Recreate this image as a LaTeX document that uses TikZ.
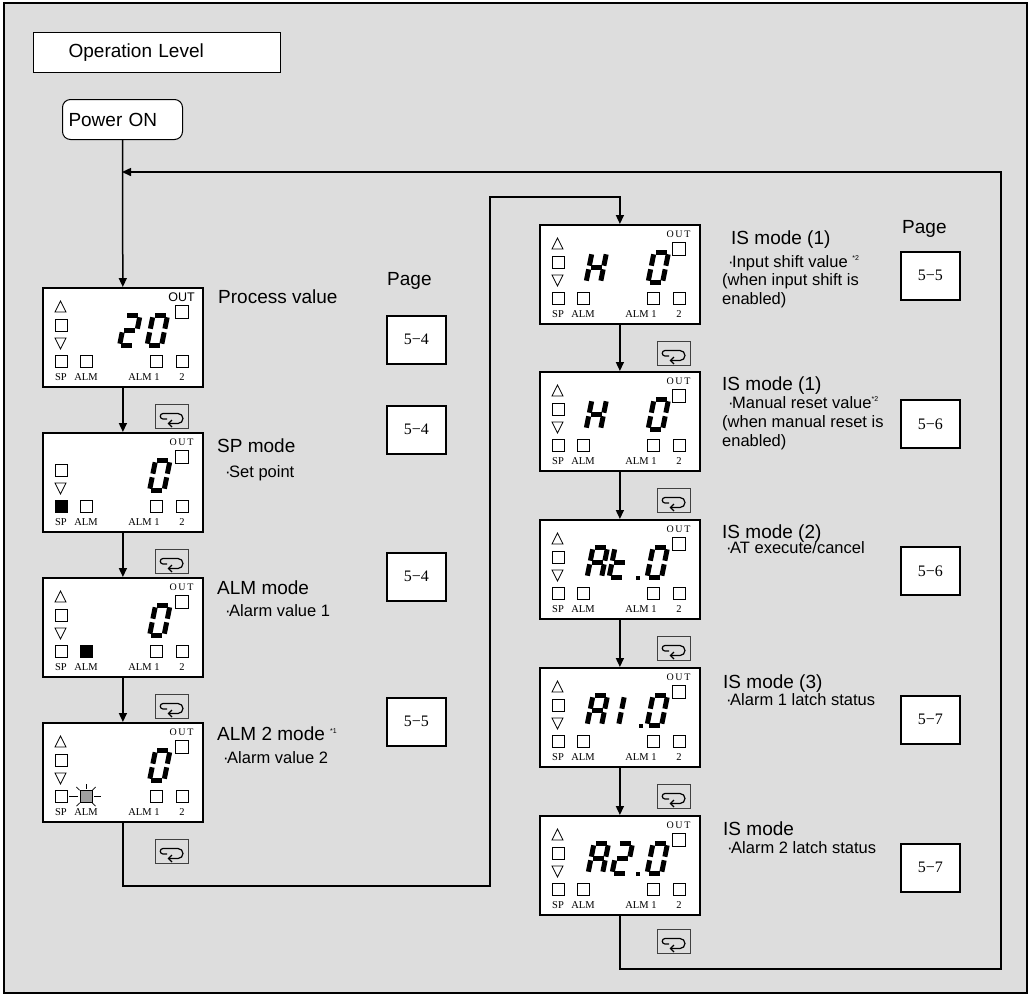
\documentclass[tikz,border=0pt]{standalone}
\usepackage{fontspec}
\setmainfont{Liberation Sans}
\newfontfamily\lcdserif{Liberation Serif}
\usetikzlibrary{arrows.meta}
\definecolor{panelgray}{RGB}{221,221,221}
\definecolor{blinkgray}{RGB}{160,160,160}

\newcommand{\titlesize}{\fontsize{19}{22}\selectfont}
\newcommand{\detailsize}{\fontsize{16.5}{18.5}\selectfont}
\newcommand{\fnote}[1]{\raisebox{7pt}{\fontsize{7}{7}\selectfont #1}}
\newcommand{\dotmark}{·\kern-1.5pt}

% seven segment digit, segments a..g (x1/y1/x2/y2)
\def\lcdsega{1.8/0/12.7/0}
\def\lcdsegb{14.5/1.8/14.5/13.2}
\def\lcdsegc{14.5/16.8/14.5/28.2}
\def\lcdsegd{1.8/30/12.7/30}
\def\lcdsege{0/16.8/0/28.2}
\def\lcdsegf{0/1.8/0/13.2}
\def\lcdsegg{1.8/15/12.7/15}
\def\drawseg#1/#2/#3/#4\relax{\draw[segline] (#1,#2) -- (#3,#4);}
\newcommand{\lcddigit}[2]{%
  \begin{scope}[shift={(#1,28.5)}, xslant=0.2]
    \foreach \s in {#2} {\expandafter\expandafter\expandafter\drawseg\csname lcdseg\s\endcsname\relax}
  \end{scope}}
\newcommand{\lcddot}[1]{\fill (#1,56.5) rectangle ++(4.2,4.2);}

% indicator extras
\newcommand{\lcdup}{\draw[ind] (13,25) -- (18.5,14) -- (24,25) -- cycle;}
\newcommand{\spon}{\fill (13,68.5) rectangle ++(12,12);}
\newcommand{\almon}{\fill (38,68.5) rectangle ++(12,12);}
\newcommand{\almblink}{%
  \draw[ind, fill=blinkgray] (38,68.5) rectangle ++(12,12);
  \foreach \a/\ra/\rb in {0/8/15, 45/9/13.5, 90/8/13, 135/9/13.5, 180/8/17, 225/9/13.5, 315/9/13.5}
    {\draw[ind, shift={(44,74.5)}] (\a:\ra pt) -- (\a:\rb pt);}}
\newcommand{\outsans}{\fontsize{12.5}{12.5}\selectfont OUT}
\newcommand{\outserif}{\lcdserif\fontsize{10}{10}\selectfont O\,U\,T}

% display panel: name, x, y, OUT text, extras
\newcommand{\lcd}[5]{%
  \node[lcd] (#1) at (#2,#3) {};
  \begin{scope}[shift={(#2,#3)}]
    \draw[ind] (13,32) rectangle ++(12,12);
    \draw[ind] (13,51) -- (24,51) -- (18.5,62) -- cycle;
    \foreach \xx in {13,38,108,134} {\draw[ind] (\xx,68.5) rectangle ++(12,12);}
    \draw[ind] (133,18) rectangle ++(13,13);
    \node[lcdout] (#1-out) at (139.5,10) {#4};
    \node[lcdlabel] (#1-sp) at (19,90.5) {SP};
    \node[lcdlabel] (#1-alm) at (44,90.5) {ALM};
    \node[lcdlabel] (#1-alm1) at (102,90.5) {ALM 1};
    \node[lcdlabel] (#1-two) at (140,90.5) {2};
    #5
  \end{scope}}

% mode key icon: name, x, y
\newcommand{\modekey}[3]{%
  \node[keybox] (#1) at (#2,#3) {};
  \begin{scope}[shift={(#2,#3)}]
    \draw[keysym] (12,15) -- (8,15) arc[start angle=270, end angle=90, radius=2.75pt]
      -- (23,9.5) arc[start angle=90, end angle=-90, radius=5pt] -- (13.5,19.5);
    \draw[keysym] (17,16) -- (13.5,19.5) -- (17,23);
  \end{scope}}

\begin{document}
\begin{tikzpicture}[
    x=1pt, y=-1pt,
    outerframe/.style={draw=black, line width=1.4pt, fill=panelgray},
    levelbox/.style={draw, line width=1.3pt, fill=white, anchor=north west, text width=177pt,
                     align=left, inner xsep=35pt, minimum height=40pt, font=\titlesize},
    startbox/.style={draw, line width=1pt, fill=white, rounded corners=8pt, anchor=north west,
                     text width=108pt, align=left, inner xsep=6pt, minimum height=40pt, font=\titlesize},
    lcd/.style={draw, line width=1.8pt, fill=white, anchor=north west,
                minimum width=160pt, minimum height=99pt, inner sep=0pt},
    ind/.style={draw=black, line width=0.7pt},
    segline/.style={line width=5pt, line cap=butt},
    lcdlabel/.style={inner sep=0pt, font=\lcdserif\fontsize{10.5}{10.5}\selectfont},
    lcdout/.style={inner sep=0pt},
    pagebox/.style={draw, line width=1.6pt, fill=white, anchor=north west, minimum width=59pt,
                    minimum height=48pt, inner sep=0pt, font=\lcdserif\fontsize{16}{16}\selectfont},
    keybox/.style={draw=black!75, line width=1.1pt, fill=panelgray, anchor=north west,
                   minimum width=33pt, minimum height=24pt, inner sep=0pt},
    keysym/.style={line width=1.2pt},
    flow/.style={line width=1.5pt, -{Triangle[length=9pt, width=8pt]}},
    modetitle/.style={anchor=base west, inner sep=0pt, font=\titlesize},
    modedetail/.style={anchor=base west, inner sep=0pt, font=\detailsize},
]
\useasboundingbox (0,0) rectangle (1031,997);
\draw[outerframe] (4,3) rectangle (1027,993);

% --- header ---
\node[levelbox] (level) at (33,32) {Operation Level};
\node[startbox] (power) at (62,99) {Power ON};

% --- left column displays ---
\lcd{pv}{42}{287}{\outsans}{\lcdup \lcddigit{83.5}{a,b,g,e,d} \lcddigit{111}{a,b,c,d,e,f}}
\lcd{sp}{42}{432}{\outserif}{\spon \lcddigit{113.5}{a,b,c,d,e,f}}
\lcd{alm}{42}{577}{\outserif}{\lcdup \almon \lcddigit{113.5}{a,b,c,d,e,f}}
\lcd{alm2}{42}{722}{\outserif}{\lcdup \almblink \lcddigit{113.5}{a,b,c,d,e,f}}

% --- right column displays ---
\lcd{is1}{539}{224}{\outserif}{\lcdup \lcddigit{53}{b,c,e,f,g} \lcddigit{115}{a,b,c,d,e,f}}
\lcd{is2}{539}{371}{\outserif}{\lcdup \lcddigit{53}{b,c,e,f,g} \lcddigit{115}{a,b,c,d,e,f}}
\lcd{is3}{539}{519}{\outserif}{\lcdup \lcddigit{54}{a,b,c,e,f,g} \lcddigit{76}{d,e,f,g} \lcddot{97} \lcddigit{114}{a,b,c,d,e,f}}
\lcd{is4}{539}{667}{\outserif}{\lcdup \lcddigit{54}{a,b,c,e,f,g} \lcddigit{71}{b,c} \lcddot{100} \lcddigit{114}{a,b,c,d,e,f}}
\lcd{is5}{539}{815}{\outserif}{\lcdup \lcddigit{55}{a,b,c,e,f,g} \lcddigit{79}{a,b,g,e,d} \lcddot{97} \lcddigit{114}{a,b,c,d,e,f}}

% --- flow ---
\coordinate (ret)   at (122,172);
\coordinate (retR)  at (1001,969);
\coordinate (linkB) at (490,886);
\coordinate (linkT) at (490,197);
\draw[flow] (power) -- (pv);
\draw[flow] (pv) -- (sp);
\draw[flow] (sp) -- (alm);
\draw[flow] (alm) -- (alm2);
\draw[flow] (alm2) |- (linkB) -- (linkT) -| (is1);
\draw[flow] (is1) -- (is2);
\draw[flow] (is2) -- (is3);
\draw[flow] (is3) -- (is4);
\draw[flow] (is4) -- (is5);
\draw[flow] (is5) |- (retR) |- (ret);

% --- mode keys ---
\modekey{key1}{155}{404}
\modekey{key2}{155}{549}
\modekey{key3}{155}{694}
\modekey{key4}{155}{839}
\modekey{key5}{657}{341}
\modekey{key6}{657}{488}
\modekey{key7}{657}{636}
\modekey{key8}{657}{784}
\modekey{key9}{657}{929}

% --- page references ---
\node[modetitle] (pagel) at (387,285) {Page};
\node[modetitle] (pager) at (902,233) {Page};
\node[pagebox] (pg1) at (386,315) {5−4};
\node[pagebox] (pg2) at (386,405) {5−4};
\node[pagebox] (pg3) at (386,552) {5−4};
\node[pagebox] (pg4) at (386,697) {5−5};
\node[pagebox] (pg5) at (900,251) {5−5};
\node[pagebox] (pg6) at (900,399) {5−6};
\node[pagebox] (pg7) at (900,546) {5−6};
\node[pagebox] (pg8) at (900,695) {5−7};
\node[pagebox] (pg9) at (900,843) {5−7};

% --- mode texts, left ---
\node[modetitle] (pvtext) at (218,303) {Process value};
\node[modetitle] (sptext) at (217,452) {SP mode};
\node[modedetail] (spdet) at (225,477) {\dotmark Set point};
\node[modetitle] (almtext) at (217,594) {ALM mode};
\node[modedetail] (almdet) at (225,616) {\dotmark Alarm value 1};
\node[modetitle] (alm2text) at (217,740) {ALM 2 mode \fnote{*1}};
\node[modedetail] (alm2det) at (223,763) {\dotmark Alarm value 2};

% --- mode texts, right ---
\node[modetitle] (is1text) at (731,244) {IS mode (1)};
\node[modedetail] (is1det) at (728,267) {\dotmark Input shift value \fnote{*2}};
\node[modedetail] (is1det2) at (722,285) {(when input shift is};
\node[modedetail] (is1det3) at (722,304) {enabled)};
\node[modetitle] (is2text) at (722,390) {IS mode (1)};
\node[modedetail] (is2det) at (728,408) {\dotmark Manual reset value\fnote{*2}};
\node[modedetail] (is2det2) at (722,427) {(when manual reset is};
\node[modedetail] (is2det3) at (722,446) {enabled)};
\node[modetitle] (is3text) at (722,538) {IS mode (2)};
\node[modedetail] (is3det) at (726,553) {\dotmark AT execute/cancel};
\node[modetitle] (is4text) at (723,688) {IS mode (3)};
\node[modedetail] (is4det) at (726,705) {\dotmark Alarm 1 latch status};
\node[modetitle] (is5text) at (723,835) {IS mode};
\node[modedetail] (is5det) at (727,853) {\dotmark Alarm 2 latch status};
\end{tikzpicture}
\end{document}
